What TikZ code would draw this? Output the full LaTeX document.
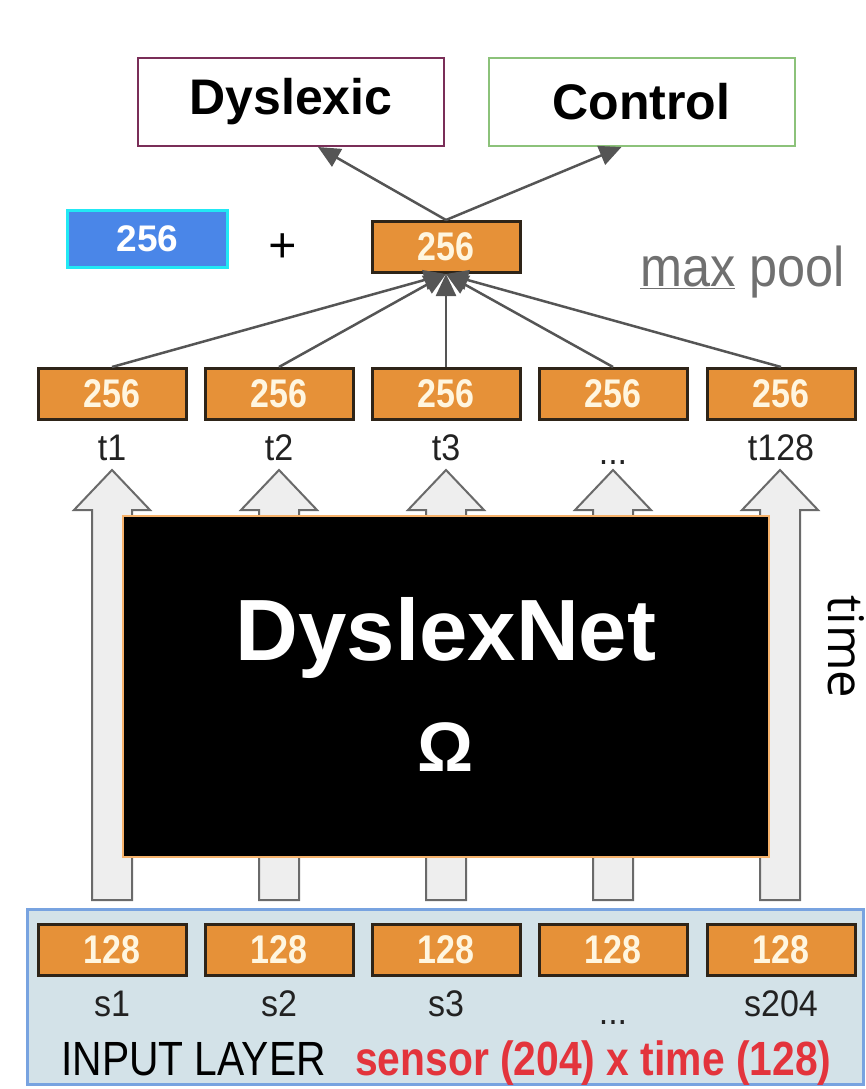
\documentclass[tikz,border=0pt]{standalone}
\usepackage{fontspec}
\setmainfont{Liberation Sans}
\newfontfamily\narrowfont[FakeStretch=0.85]{Liberation Sans}
\newfontfamily\labelfont[FakeStretch=0.92]{Liberation Sans}
\newfontfamily\poolfont[FakeStretch=0.9]{Liberation Sans}
\newfontfamily\opensansfont{Open Sans}
\usetikzlibrary{arrows.meta,calc}
\definecolor{orangefill}{HTML}{E69138}
\definecolor{orangeborder}{HTML}{2E2418}
\definecolor{creamtext}{HTML}{FFF6E0}
\definecolor{bluefill}{HTML}{4A86E8}
\definecolor{cyanborder}{HTML}{22E8F4}
\definecolor{dysborder}{HTML}{7A2E58}
\definecolor{ctrlborder}{HTML}{8CC27A}
\definecolor{linkgray}{HTML}{555555}
\definecolor{hollowfill}{HTML}{EEEEEE}
\definecolor{hollowdraw}{HTML}{6A6A6A}
\definecolor{netborder}{HTML}{F6B26B}
\definecolor{inputfill}{HTML}{D3E2E8}
\definecolor{inputborder}{HTML}{78A3E0}
\definecolor{redtext}{HTML}{E3343C}
\definecolor{pooltext}{HTML}{707070}
\definecolor{labeltext}{HTML}{222222}
\tikzset{
  obox/.style={draw=orangeborder, line width=3pt, fill=orangefill, minimum width=148pt, minimum height=51pt, inner sep=0pt, text=creamtext, font=\narrowfont\bfseries\fontsize{40}{44}\selectfont},
  classbox/.style={draw, line width=2pt, fill=white, minimum width=306pt, minimum height=88pt, inner sep=0pt, font=\bfseries\fontsize{50}{54}\selectfont},
  steplabel/.style={text=labeltext, inner sep=0pt, font=\labelfont\fontsize{37}{40}\selectfont},
  link/.style={draw=linkgray, line width=2.5pt, -{Triangle[length=22pt,width=20pt]}},
  hollow/.style={draw=hollowdraw, fill=hollowfill, line width=2pt, line join=miter}
}
\begin{document}
\begin{tikzpicture}[x=1pt,y=-1pt]
\useasboundingbox (0,0) rectangle (866,1089);

% class boxes
\node[classbox, draw=dysborder] (dys) at (291,102) {Dyslexic};
\node[classbox, draw=ctrlborder] (ctrl) at (641.5,102) {Control};

% blue box, plus, pooled box
\node[draw=cyanborder, line width=3pt, fill=bluefill, minimum width=160pt, minimum height=57pt, inner sep=0pt, text=white, font=\bfseries\fontsize{37}{40}\selectfont] (blue) at (147.5,238.5) {256};
\node[font=\opensansfont\fontsize{50}{54}\selectfont, inner sep=0pt] (plus) at (283,249) {+};
\node[obox] (pool) at (446,247) {256};
\node[anchor=base west, text=pooltext, inner sep=0pt, font=\poolfont\fontsize{56}{60}\selectfont] (poollabel) at (640,286) {\underline{max} pool};

% time step boxes
\foreach \i/\x in {1/112, 2/279, 3/446, 4/613, 5/781}{
  \node[obox] (t\i) at (\x,394) {256};
}
\node[steplabel, anchor=base] (lt1) at (112,460) {t1};
\node[steplabel, anchor=base] (lt2) at (279,460) {t2};
\node[steplabel, anchor=base] (lt3) at (446,460) {t3};
\node[steplabel, anchor=base] (lt4) at (613,464) {...};
\node[steplabel, anchor=base] (lt5) at (781,460) {t128};

% hollow arrows
\foreach \c in {112, 279, 446, 613, 780}{
  \draw[hollow] (\c-20,900) -- (\c-20,510) -- (\c-38,510) -- (\c,470) -- (\c+38,510) -- (\c+20,510) -- (\c+20,900) -- cycle;
}

% black network box
\node[draw=netborder, line width=2.5pt, fill=black, minimum width=646pt, minimum height=341pt, inner sep=0pt] (net) at (446,686.5) {};
\node[text=white, font=\bfseries\fontsize{87}{92}\selectfont, inner sep=0pt] (netname) at (446,638) {DyslexNet};
\node[text=white, font=\bfseries\fontsize{70}{76}\selectfont, inner sep=0pt] (omega) at (446,747) {Ω};

% time label
\node[rotate=-90, font=\opensansfont\fontsize{49}{52}\selectfont, inner sep=0pt] (timelabel) at (846,647) {time};

% input layer
\node[draw=inputborder, fill=inputfill, line width=3pt, minimum width=836pt, minimum height=175pt, inner sep=0pt] (input) at (445,996.5) {};
\foreach \i/\x in {1/112, 2/279, 3/446, 4/613, 5/781}{
  \node[obox] (s\i) at (\x,950) {128};
}
\node[steplabel, anchor=base] (ls1) at (112,1016) {s1};
\node[steplabel, anchor=base] (ls2) at (279,1016) {s2};
\node[steplabel, anchor=base] (ls3) at (446,1016) {s3};
\node[steplabel, anchor=base] (ls4) at (613,1024) {...};
\node[steplabel, anchor=base] (ls5) at (781,1016) {s204};
\node[anchor=base west, inner sep=0pt, font=\narrowfont\fontsize{48}{52}\selectfont] (inputlabel) at (61,1075) {INPUT LAYER};
\node[anchor=base west, inner sep=0pt, text=redtext, font=\narrowfont\bfseries\fontsize{48}{52}\selectfont] (sizelabel) at (355,1075) {sensor (204) x time (128)};

% connectors
\foreach \i in {1,...,5}{
  \draw[link] (t\i.north) -- (pool.south);
}
\draw[link] (pool.north) -- ($(dys.south)+(27,0)$);
\draw[link] (pool.north) -- ($(ctrl.south)+(-20,0)$);
\end{tikzpicture}
\end{document}
